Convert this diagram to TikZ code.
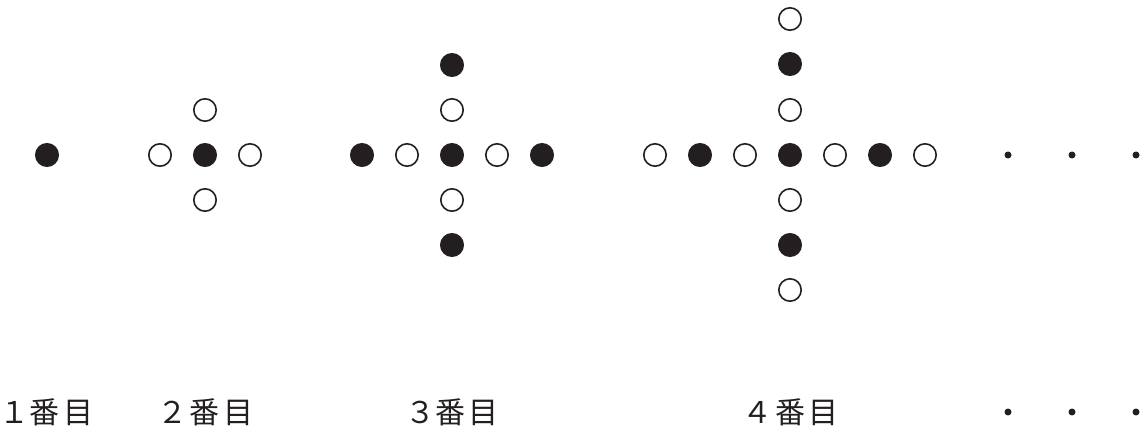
\documentclass[tikz,border=0pt]{standalone}
\usepackage{fontspec}
\newfontfamily\jpfont{Noto Sans CJK JP}
\definecolor{ink}{HTML}{231F20}
\tikzset{
  wc/.style={circle, draw=ink, line width=1.6pt, fill=white, minimum size=22.4pt, inner sep=0pt},
  bc/.style={circle, draw=ink, line width=1.6pt, fill=ink, minimum size=22.4pt, inner sep=0pt},
  sdot/.style={circle, fill=ink, minimum size=7pt, inner sep=0pt},
  lbl/.style={font=\jpfont\fontsize{30pt}{30pt}\selectfont, text=ink, inner sep=0pt}
}
% #1 digit, #2 offset of digit (pt), #3 offset of last glyph (pt); glyph centres relative to the middle glyph
\newcommand{\ordlabel}[3]{\makebox[0pt]{\hspace{#2}\hspace{#2}#1}\makebox[0pt]{番}\makebox[0pt]{\hspace{#3}\hspace{#3}目}}
\begin{document}
\begin{tikzpicture}[x=1pt,y=-1pt]
\useasboundingbox (0,0) rectangle (1148,430);
% pattern 1
\node[bc] (a0) at (47,155) {};
% pattern 2
\node[bc] (b0) at (205,155) {};
\node[wc] (bl) at (160,155) {};
\node[wc] (br) at (250,155) {};
\node[wc] (bu) at (205,110) {};
\node[wc] (bd) at (205,200) {};
% pattern 3
\node[bc] (c0) at (452,155) {};
\node[wc] (cl1) at (407,155) {};
\node[bc] (cl2) at (362,155) {};
\node[wc] (cr1) at (497,155) {};
\node[bc] (cr2) at (542,155) {};
\node[wc] (cu1) at (452,110) {};
\node[bc] (cu2) at (452,65) {};
\node[wc] (cd1) at (452,200) {};
\node[bc] (cd2) at (452,245) {};
% pattern 4
\node[bc] (d0) at (790,155) {};
\node[wc] (dl1) at (745,155) {};
\node[bc] (dl2) at (700,155) {};
\node[wc] (dl3) at (655,155) {};
\node[wc] (dr1) at (835,155) {};
\node[bc] (dr2) at (880,155) {};
\node[wc] (dr3) at (925,155) {};
\node[wc] (du1) at (790,110) {};
\node[bc] (du2) at (790,64) {};
\node[wc] (du3) at (790,19) {};
\node[wc] (dd1) at (790,200) {};
\node[bc] (dd2) at (790,245) {};
\node[wc] (dd3) at (790,290) {};
% ellipsis dots
\node[sdot] (e1) at (1008,155) {};
\node[sdot] (e2) at (1072,155) {};
\node[sdot] (e3) at (1136,155) {};
\node[sdot] (f1) at (1008,412) {};
\node[sdot] (f2) at (1072,412) {};
\node[sdot] (f3) at (1136,412) {};
% labels
\node[lbl] (l1) at (45,412) {\ordlabel{１}{-31pt}{33.5pt}};
\node[lbl] (l2) at (205,412) {\ordlabel{２}{-32.5pt}{33.5pt}};
\node[lbl] (l3) at (451,412) {\ordlabel{３}{-31pt}{33pt}};
\node[lbl] (l4) at (790,412) {\ordlabel{４}{-33pt}{33pt}};
\end{tikzpicture}
\end{document}
